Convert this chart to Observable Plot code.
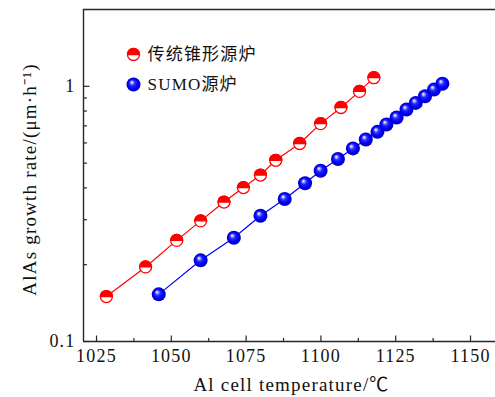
<!DOCTYPE html>
<html><head><meta charset="utf-8">
<script src="https://cdn.jsdelivr.net/npm/d3@7"></script>
<script src="https://cdn.jsdelivr.net/npm/@observablehq/plot@0.6"></script>
<style>
body { margin: 0; background: #fff; }
</style></head>
<body><div id="chart"></div>
<script>
// AlAs growth rate vs Al cell temperature, two effusion cell types
const seriesNames = ["传统锥形源炉", "SUMO源炉"];

const conicalTemp = [1028.3, 1041.4, 1051.8, 1059.8, 1067.6, 1074.1, 1079.8, 1084.9, 1092.9, 1099.9, 1106.7, 1112.9, 1117.7];
const conicalRate = [0.150, 0.196, 0.249, 0.297, 0.352, 0.401, 0.449, 0.513, 0.597, 0.714, 0.826, 0.955, 1.081];

const sumoTemp = [1045.8, 1059.8, 1070.9, 1079.8, 1087.9, 1094.7, 1099.9, 1105.7, 1110.7, 1115.0, 1118.9, 1121.9, 1125.3, 1128.6, 1131.7, 1134.8, 1137.8, 1140.6];
const sumoRate = [0.153, 0.208, 0.255, 0.311, 0.362, 0.417, 0.467, 0.519, 0.571, 0.619, 0.663, 0.709, 0.755, 0.811, 0.861, 0.914, 0.971, 1.024];

const xMajorTicks = [1025, 1050, 1075, 1100, 1125, 1150];
const xMinorTicks = [1037.5, 1062.5, 1087.5, 1112.5, 1137.5];
const yMajorTicks = [0.1, 1];
const yMinorTicks = [0.2, 0.3, 0.4, 0.5, 0.6, 0.7, 0.8, 0.9];

const xDomain = [1020.65, 1158.35];
const yDomain = [0.1, 2];

const conical = conicalTemp.map((t, i) => ({t, rate: conicalRate[i]}));
const sumo = sumoTemp.map((t, i) => ({t, rate: sumoRate[i]}));

// custom symbols: filled upper half disc, and short inward tick strokes
const upperHalf = {draw(ctx, size) {
  const r = Math.sqrt(size / Math.PI);
  ctx.moveTo(r, 0);
  ctx.arc(0, 0, r, 0, Math.PI, true);
  ctx.closePath();
}};
const tickUp = len => ({draw(ctx) { ctx.moveTo(0, 0); ctx.lineTo(0, -len); }});
const tickRight = len => ({draw(ctx) { ctx.moveTo(0, 0); ctx.lineTo(len, 0); }});

const RED = "#ff0000", BLUE = "#0000ff", INK = "#262626";
const serif = "'Liberation Serif', 'Noto Sans CJK SC', serif";

const conicalMarker = (data, opts) => [
  Plot.dot(data, {...opts, r: 6, fill: "white", stroke: RED, strokeWidth: 1.3}),
  Plot.dot(data, {...opts, r: 6, symbol: upperHalf, fill: RED, stroke: RED, strokeWidth: 1.3})
];

const chart = Plot.plot({
  width: 495,
  height: 397,
  marginLeft: 83,
  marginRight: 0,
  marginTop: 9,
  marginBottom: 56,
  style: {fontFamily: serif, fontSize: "18px", color: "#111", background: "white", letterSpacing: "1.2px"},
  x: {domain: xDomain},
  y: {type: "log", domain: yDomain},
  marks: [
    // frame: left, bottom and top edges
    Plot.ruleX([xDomain[0]], {stroke: INK, strokeWidth: 1.4}),
    Plot.ruleY([yDomain[0], yDomain[1]], {stroke: INK, strokeWidth: 1.4}),
    // inward ticks
    Plot.dot(xMajorTicks, {x: d => d, y: () => yDomain[0], symbol: tickUp(6), stroke: INK, fill: "none", strokeWidth: 1.2}),
    Plot.dot(xMinorTicks, {x: d => d, y: () => yDomain[0], symbol: tickUp(3.5), stroke: INK, fill: "none", strokeWidth: 1.2}),
    Plot.dot(yMajorTicks, {y: d => d, x: () => xDomain[0], symbol: tickRight(6), stroke: INK, fill: "none", strokeWidth: 1.2}),
    Plot.dot(yMinorTicks, {y: d => d, x: () => xDomain[0], symbol: tickRight(3.5), stroke: INK, fill: "none", strokeWidth: 1.2}),
    // tick labels
    Plot.axisX({ticks: xMajorTicks, tickSize: 0, tickPadding: 8, tickFormat: d3.format("d"), label: null, fontSize: 18}),
    Plot.axisY({ticks: yMajorTicks, tickSize: 0, tickPadding: 8, tickFormat: d => String(d), label: null, fontSize: 18}),
    // axis titles
    Plot.text(["Al cell temperature/℃"], {frameAnchor: "bottom", text: d => d, dx: 2, dy: 43, fontSize: 19, textAnchor: "middle", lineAnchor: "middle"}),
    Plot.text(["AlAs growth rate/(μm·h⁻¹)"], {frameAnchor: "left", text: d => d, rotate: -90, dx: -54, dy: 4, fontSize: 19, textAnchor: "middle", lineAnchor: "middle"}),
    // series
    Plot.line(conical, {x: "t", y: "rate", stroke: RED, strokeWidth: 1.2}),
    Plot.line(sumo, {x: "t", y: "rate", stroke: BLUE, strokeWidth: 1.2}),
    ...conicalMarker(conical, {x: "t", y: "rate"}),
    Plot.dot(sumo, {x: "t", y: "rate", r: 7, fill: "url(#sumoSphere)", stroke: "none"}),
    // legend
    ...conicalMarker([seriesNames[0]], {frameAnchor: "top-left", dx: 50, dy: 45}),
    Plot.text([seriesNames[0]], {frameAnchor: "top-left", text: d => d, dx: 64, dy: 45, textAnchor: "start", lineAnchor: "middle", fontSize: 17}),
    Plot.dot([seriesNames[1]], {frameAnchor: "top-left", dx: 50, dy: 75, r: 7, fill: "url(#sumoSphere)", stroke: "none"}),
    Plot.text([seriesNames[1]], {frameAnchor: "top-left", text: d => d, dx: 64, dy: 75, textAnchor: "start", lineAnchor: "middle", fontSize: 17})
  ]
});

// radial shading for the SUMO markers
const ns = "http://www.w3.org/2000/svg";
const defs = document.createElementNS(ns, "defs");
const grad = document.createElementNS(ns, "radialGradient");
grad.setAttribute("id", "sumoSphere");
grad.setAttribute("cx", "0.5"); grad.setAttribute("cy", "0.5"); grad.setAttribute("r", "0.5");
grad.setAttribute("fx", "0.36"); grad.setAttribute("fy", "0.32");
[["0", "#ffffff"], ["0.12", "#c8c8ff"], ["0.38", "#2a2aff"], ["0.7", "#0000ff"], ["1", "#0000b0"]].forEach(([o, c]) => {
  const s = document.createElementNS(ns, "stop");
  s.setAttribute("offset", o); s.setAttribute("stop-color", c);
  grad.appendChild(s);
});
defs.appendChild(grad);
chart.insertBefore(defs, chart.firstChild);

document.getElementById("chart").appendChild(chart);
</script>
</body></html>
